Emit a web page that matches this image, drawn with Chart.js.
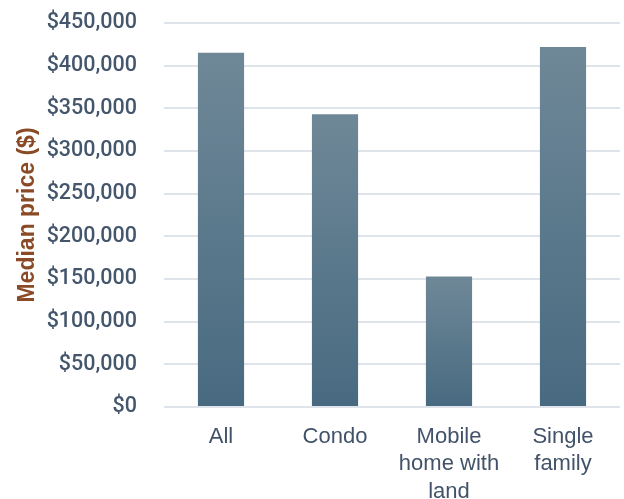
<!DOCTYPE html>
<html>
<head>
<meta charset="utf-8">
<script src="https://cdn.jsdelivr.net/npm/chart.js@4"></script>
<style>
html,body{margin:0;padding:0;background:#fff;}
#wrap{width:624px;height:499px;position:relative;}
</style>
</head>
<body>
<div id="wrap"><canvas id="c" width="624" height="499"></canvas></div>
<script>
const categories = [["All"], ["Condo"], ["Mobile", "home with", "land"], ["Single", "family"]];
const medianPrices = [415000, 343000, 153000, 422000];
const yTickMin = 0;
const yTickMax = 450000;
const yTickStep = 50000;
const yAxisTitle = "Median price ($)";

const topColor = "#6f8898";
const bottomColor = "#486a80";
const textColor = "#425369";
const yTickColor = "#44566c";
const fontFamily = "'Liberation Sans', Arial, sans-serif";
const tickFamily = "Roboto, 'Liberation Sans', Arial, sans-serif";

function barGradient(c) {
  const chart = c.chart;
  const ys = chart.scales.y;
  if (!chart.chartArea || !ys || c.raw === undefined) return bottomColor;
  const top = ys.getPixelForValue(c.raw);
  const bottom = ys.getPixelForValue(0);
  const g = chart.ctx.createLinearGradient(0, top, 0, bottom);
  g.addColorStop(0, topColor);
  g.addColorStop(1, bottomColor);
  return g;
}

new Chart(document.getElementById('c'), {
  type: 'bar',
  data: {
    labels: categories,
    datasets: [{
      data: medianPrices,
      backgroundColor: barGradient,
      borderWidth: 0,
      categoryPercentage: 1.0,
      barPercentage: 0.405
    }]
  },
  options: {
    responsive: false,
    animation: false,
    devicePixelRatio: 1,
    layout: { padding: { top: 23, right: 4, left: 0, bottom: 0 } },
    plugins: { legend: { display: false }, tooltip: { enabled: false } },
    scales: {
      x: {
        grid: { display: false, drawTicks: false },
        border: { display: false },
        ticks: {
          color: textColor,
          font: { family: fontFamily, size: 22, lineHeight: 1.25 },
          padding: 16,
          maxRotation: 0,
          autoSkip: false
        },
        afterFit(s) { s.height = 92; s.paddingTop = 0; s.paddingBottom = 0; s.paddingLeft = 0; s.paddingRight = 0; }
      },
      y: {
        min: yTickMin,
        max: yTickMax,
        grid: { color: "#dfe4ea", lineWidth: 2, drawTicks: false },
        border: { display: false },
        ticks: {
          stepSize: yTickStep,
          color: yTickColor,
          font: { family: tickFamily, size: 21.5, weight: 500 },
          padding: 27,
          callback: v => "$" + v.toLocaleString("en-US")
        },
        title: {
          display: true,
          text: yAxisTitle,
          color: "#8a4a26",
          font: { family: fontFamily, size: 23, weight: "bold" },
          padding: { top: 14, bottom: 0 }
        },
        afterFit(s) { s.width = 164; s.paddingTop = 0; s.paddingBottom = 0; }
      }
    }
  }
});
</script>
</body>
</html>
